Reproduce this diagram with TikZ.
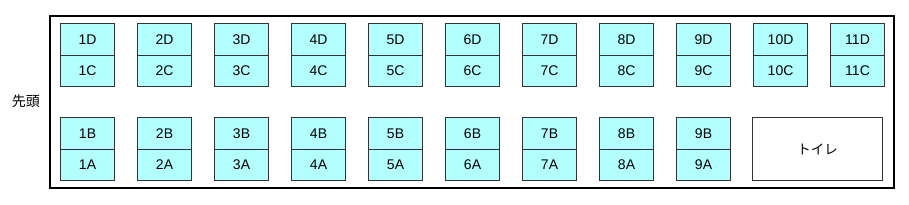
\documentclass[tikz,border=0pt]{standalone}
\usepackage{fontspec}
\setmainfont{Liberation Sans}
\newfontfamily\jpfont{Noto Sans CJK JP}
\definecolor{seatfill}{HTML}{B3FFFF}
\definecolor{seatline}{HTML}{333333}
\begin{document}
\begin{tikzpicture}[x=1pt,y=-1pt,
  seatbox/.style={draw=seatline,fill=seatfill,line width=1.1pt,minimum width=54pt,minimum height=31.5pt,inner sep=0pt,font=\fontsize{14}{14}\selectfont,anchor=north west},
  toiletbox/.style={draw=seatline,fill=white,line width=1.1pt,minimum width=130pt,minimum height=63pt,inner sep=0pt,anchor=north west,font=\jpfont\fontsize{13.5}{13.5}\selectfont},
  frame/.style={draw=black,line width=2.2pt}]
\useasboundingbox (0,0) rectangle (909,204);
\node[frame,minimum width=844pt,minimum height=172pt,anchor=north west,inner sep=0pt] (car) at (49,15) {};
\node[font=\jpfont\fontsize{14}{14}\selectfont] (head) at (26,101) {先頭};
\foreach \i in {1,...,11}{
  \node[seatbox] (s\i D) at ({60+(\i-1)*77},23) {\i D};
  \node[seatbox] (s\i C) at ({60+(\i-1)*77},54.5) {\i C};
}
\foreach \i in {1,...,9}{
  \node[seatbox] (s\i B) at ({60+(\i-1)*77},117) {\i B};
  \node[seatbox] (s\i A) at ({60+(\i-1)*77},148.5) {\i A};
}
\node[toiletbox] (toilet) at (752,117) {トイレ};
\end{tikzpicture}
\end{document}
